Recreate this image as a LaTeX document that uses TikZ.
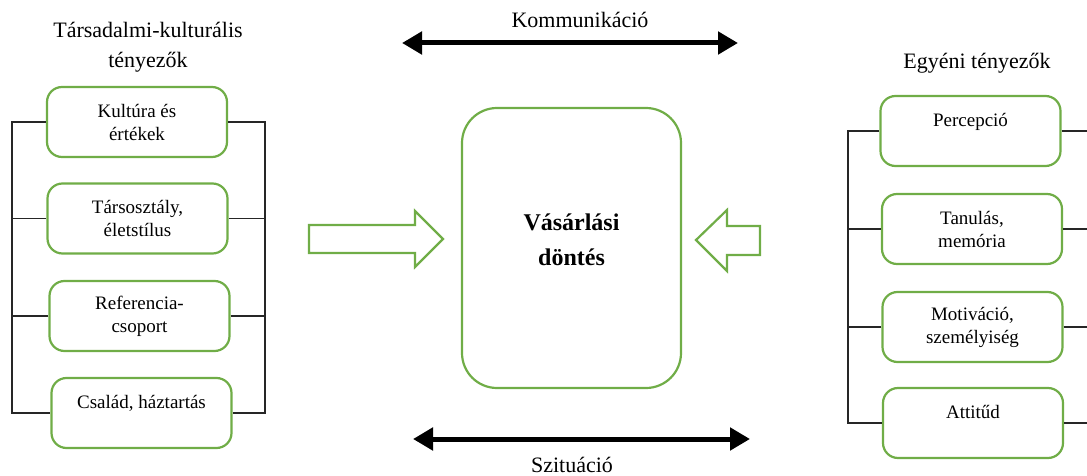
\documentclass[tikz,border=0pt]{standalone}
\usepackage{fontspec}
\setmainfont{Liberation Serif}
\usetikzlibrary{arrows.meta}
\definecolor{grn}{RGB}{112,173,71}
\begin{document}
\begin{tikzpicture}[x=1pt,y=-1pt,
  factor/.style={draw=grn,line width=2.2pt,rounded corners=15pt,fill=white,
    minimum width=180pt,minimum height=70pt,align=center,inner sep=0pt,
    font=\fontsize{19}{23}\selectfont},
  title/.style={align=center,font=\fontsize{22}{30}\selectfont},
  conn/.style={line width=1.2pt,draw=black!85},
  hollow/.style={draw=grn,line width=2.2pt,fill=white,line join=miter},
  dbl/.style={line width=5pt,{Triangle[length=20pt,width=22pt]}-{Triangle[length=20pt,width=22pt]}}]
\useasboundingbox (0,0) rectangle (1087,476);

% titles
\node[title] (lt) at (148,47) {Társadalmi-kulturális\\tényezők};
\node[title] (rt) at (977,63) {Egyéni tényezők};
\node[title,anchor=base] (kom) at (580,28) {Kommunikáció};
\node[title,anchor=base] (szi) at (572,472) {Szituáció};

% left boxes
\node[factor] (L1) at (137,122) {Kultúra és\\értékek};
\node[factor] (L2) at (137.5,218.5) {Társosztály,\\életstílus};
\node[factor] (L3) at (139.5,316) {Referencia-\\csoport};
\node[factor] (L4) at (141.5,413) {Család, háztartás\\\mbox{}};

% right boxes
\node[factor] (R1) at (970.5,131) {Percepció\\\mbox{}};
\node[factor] (R2) at (972,229) {Tanulás,\\memória};
\node[factor] (R3) at (972.5,327) {Motiváció,\\személyiség};
\node[factor] (R4) at (973,423) {Attitűd\\\mbox{}};

% bracket coordinates
\coordinate (lb) at (12,0);
\coordinate (lr) at (265,0);
\coordinate (rl) at (848,0);
\coordinate (rr) at (1087,0);

% left brackets
\draw[conn] (L1.west) -- (L1.west -| lb) -- (L4.west -| lb) -- (L4.west);
\draw[conn] (L2.west) -- (L2.west -| lb);
\draw[conn] (L3.west) -- (L3.west -| lb);
\draw[conn] (L1.east) -- (L1.east -| lr) -- (L4.east -| lr) -- (L4.east);
\draw[conn] (L2.east) -- (L2.east -| lr);
\draw[conn] (L3.east) -- (L3.east -| lr);

% right brackets
\draw[conn] (R1.west) -- (R1.west -| rl) -- (R4.west -| rl) -- (R4.west);
\draw[conn] (R2.west) -- (R2.west -| rl);
\draw[conn] (R3.west) -- (R3.west -| rl);
\foreach \r in {R1,R2,R3,R4} \draw[conn] (\r.east) -- (\r.east -| rr);

% central decision box
\node[draw=grn,line width=2.2pt,rounded corners=35pt,minimum width=219pt,minimum height=280pt] (dec) at (571.5,248) {};
\node[align=center,font=\fontsize{24}{35}\selectfont\bfseries] (dect) at (571.5,240) {Vásárlási\\döntés};

% hollow arrows
\draw[hollow] (309,225) -- (415,225) -- (415,211) -- (443,239) -- (415,267) -- (415,253) -- (309,253) -- cycle;
\draw[hollow] (760,226) -- (727,226) -- (727,210) -- (696,240) -- (727,271) -- (727,255) -- (760,255) -- cycle;

% double arrows
\coordinate (k1) at (402,43);
\coordinate (k2) at (738,43);
\coordinate (s1) at (413,439);
\coordinate (s2) at (750,439);
\draw[dbl] (k1) -- (k2);
\draw[dbl] (s1) -- (s2);
\end{tikzpicture}
\end{document}
